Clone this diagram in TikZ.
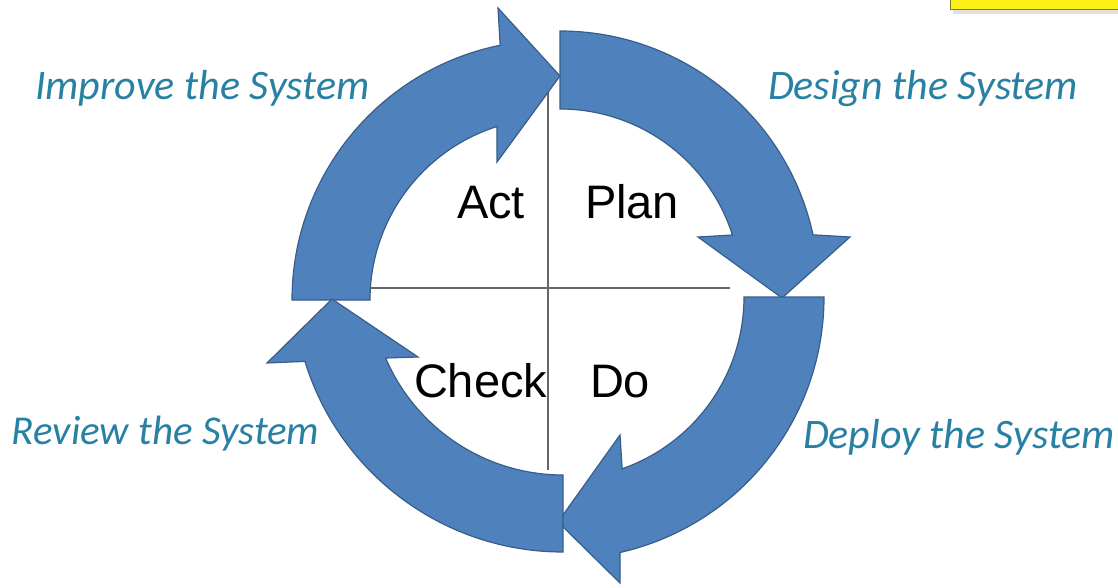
\documentclass[tikz,border=0pt]{standalone}
\usepackage{fontspec}
\setmainfont{Liberation Sans}
\newfontfamily\captionfont{Carlito}
\usetikzlibrary{calc}
\definecolor{cyclefill}{RGB}{79,129,189}
\definecolor{cycleedge}{RGB}{56,93,138}
\definecolor{phasetext}{RGB}{40,128,163}
\definecolor{notefill}{RGB}{250,240,20}
\definecolor{noteedge}{RGB}{130,125,40}

\begin{document}
\begin{tikzpicture}[x=1pt,y=1pt,
  cyclearrow/.style={fill=cyclefill, draw=cycleedge, line width=1.2pt, line join=miter},
  quadword/.style={anchor=base west, inner sep=0pt, outer sep=0pt,
    font=\fontsize{47}{52}\selectfont, text=black},
  phase/.style={anchor=base west, inner sep=0pt, outer sep=0pt,
    font=\captionfont\itshape\fontsize{42}{46}\selectfont, text=phasetext},
  divider/.style={draw=black!60, line width=1.4pt}]
\useasboundingbox (0,0) rectangle (1118,-588);

% yellow note strip in the corner
\fill[black!12] (953,-14) rectangle (1125,3);
\draw[fill=notefill, draw=noteedge, line width=1pt] (950,-10) rectangle (1125,4);

% quadrant dividers
\coordinate (vtop) at (548,-90);
\coordinate (vbot) at (548,-470);
\coordinate (hleft) at (370,-288);
\coordinate (hright) at (730,-288);
\draw[divider] (vtop) -- (vbot);
\draw[divider] (hleft) -- (hright);

% centres of the four curved arrows
\coordinate (c1) at (560,-290);
\coordinate (c2) at (562,-297);
\coordinate (c3) at (563,-282);
\coordinate (c4) at (552,-300);

% Act -> Plan: left side up to the top
\draw[cyclearrow] ($(c4)+(180:260)$) arc[start angle=180, end angle=101.5, radius=260]
  -- (498,-8) -- (560,-76) -- (497,-162)
  -- ($(c4)+(107.6:182)$) arc[start angle=107.6, end angle=180, radius=182] -- cycle;

% Plan -> Do: top down to the right
\draw[cyclearrow] ($(c1)+(90:259)$) arc[start angle=90, end angle=12.3, radius=259]
  -- (850,-237) -- (782,-298) -- (698,-237)
  -- ($(c1)+(17.7:181)$) arc[start angle=17.7, end angle=90, radius=181] -- cycle;

% Do -> Check: right side down to the bottom
\draw[cyclearrow] ($(c2)+(0:262)$) arc[start angle=0, end angle=-77.2, radius=262]
  -- (620,-583) -- (558,-522) -- (620,-435)
  -- ($(c2)+(-70.7:182)$) arc[start angle=-70.7, end angle=0, radius=182] -- cycle;

% Check -> Act: bottom round to the left
\draw[cyclearrow] ($(c3)+(-90:270)$) arc[start angle=-90, end angle=-162.9, radius=270]
  -- (267,-363) -- (332,-299) -- (418,-357)
  -- ($(c3)+(-156.8:193)$) arc[start angle=-156.8, end angle=-90, radius=193] -- cycle;

% quadrant words
\node[quadword] (act) at (457,-218) {Act};
\node[quadword] (plan) at (585,-218) {Plan};
\node[quadword] (check) at (414,-397) {Check};
\node[quadword] (do) at (590,-397) {Do};

% phase captions
\node[phase] (improve) at (35,-100) {Improve the System};
\node[phase] (design) at (768,-100) {Design the System};
\node[phase, font=\captionfont\itshape\fontsize{41}{45}\selectfont] (review) at (12,-444) {Review the System};
\node[phase] (deploy) at (803,-448) {Deploy the System};
\end{tikzpicture}
\end{document}
